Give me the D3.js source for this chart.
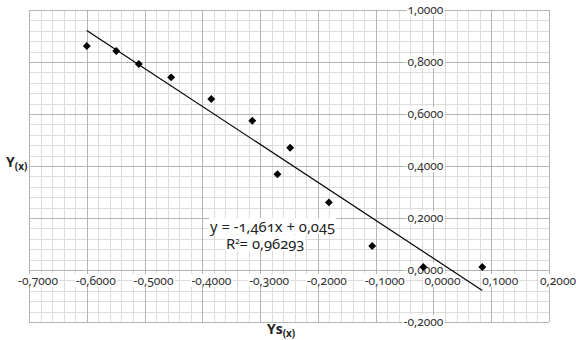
<!DOCTYPE html>
<html lang="en">
<head>
<meta charset="utf-8">
<title>Ys(x) vs Y(x) scatter</title>
<script src="https://d3js.org/d3.v7.min.js"></script>
<style>
  body { margin: 0; background: #fff; }
  .tick-label { font-family: "Noto Sans", sans-serif; font-size: 12px; fill: #333;
                font-variant-numeric: oldstyle-nums; }
  .eq { font-family: "Noto Sans", sans-serif; font-size: 14.8px; fill: #222;
        font-variant-numeric: oldstyle-nums; }
  .axis-title { font-family: "Open Sans", "Noto Sans", sans-serif; font-size: 14px; font-weight: bold; fill: #222; }
</style>
</head>
<body>
<script>
// data
var xs = [-0.600, -0.549, -0.510, -0.454, -0.3845, -0.3135, -0.248, -0.270, -0.181, -0.106, -0.0175, 0.0846];
var ys = [0.8615, 0.842, 0.792, 0.741, 0.658, 0.574, 0.470, 0.368, 0.260, 0.0923, 0.0115, 0.0115];
var xTicks = [-0.7, -0.6, -0.5, -0.4, -0.3, -0.2, -0.1, 0.0, 0.1, 0.2];
var yTicks = [-0.2, 0.0, 0.2, 0.4, 0.6, 0.8, 1.0];
var slope = -1.461, intercept = 0.045;
var eqText = "y = -1,461x + 0,045";

var width = 576, height = 340;
var margin = {top: 10, right: 27, bottom: 18, left: 29};

var x = d3.scaleLinear().domain([-0.7, 0.2]).range([margin.left, width - margin.right]);
var y = d3.scaleLinear().domain([-0.2, 1.0]).range([height - margin.bottom, margin.top]);

var svg = d3.select("body").append("svg")
    .attr("width", width)
    .attr("height", height);

// minor grid
var xMinor = d3.range(-0.7, 0.2001, 0.02);
var yMinor = d3.range(-0.2, 1.0001, 0.04);
svg.append("g").selectAll("line").data(xMinor).enter().append("line")
    .attr("x1", d => Math.round(x(d)) + 0.5).attr("x2", d => Math.round(x(d)) + 0.5)
    .attr("y1", y(1.0)).attr("y2", y(-0.2))
    .attr("stroke", "#dcdcdc").attr("stroke-width", 1);
svg.append("g").selectAll("line").data(yMinor).enter().append("line")
    .attr("y1", d => Math.round(y(d)) + 0.5).attr("y2", d => Math.round(y(d)) + 0.5)
    .attr("x1", x(-0.7)).attr("x2", x(0.2))
    .attr("stroke", "#dcdcdc").attr("stroke-width", 1);

// major grid
svg.append("g").selectAll("line").data(xTicks).enter().append("line")
    .attr("x1", d => Math.round(x(d)) + 0.5).attr("x2", d => Math.round(x(d)) + 0.5)
    .attr("y1", y(1.0)).attr("y2", y(-0.2))
    .attr("stroke", "#b4b4b4").attr("stroke-width", 1);
svg.append("g").selectAll("line").data(yTicks).enter().append("line")
    .attr("y1", d => Math.round(y(d)) + 0.5).attr("y2", d => Math.round(y(d)) + 0.5)
    .attr("x1", x(-0.7)).attr("x2", x(0.2))
    .attr("stroke", "#b4b4b4").attr("stroke-width", 1);

function fmt(v) {
  return d3.format(".4f")(v).replace("−", "-").replace(".", ",");
}

// white box behind a text
function boxBehind(g, t) {
  var b = t.node().getBBox();
  g.insert("rect", function() { return t.node(); })
      .attr("x", b.x - 1).attr("y", b.y + 2)
      .attr("width", b.width + 2).attr("height", b.height - 4)
      .attr("fill", "#fff");
}

function boxedText(g, tx, ty, txt, cls, anchor) {
  var t = g.append("text").attr("class", cls)
      .attr("x", tx).attr("y", ty)
      .attr("text-anchor", anchor)
      .text(txt);
  boxBehind(g, t);
  return t;
}

var lab = svg.append("g");
yTicks.forEach(function(v) {
  boxedText(lab, x(0) + 10, y(v) + 4, fmt(v), "tick-label", "end");
});
xTicks.forEach(function(v) {
  boxedText(lab, x(v) + 9, y(0) + 15, fmt(v), "tick-label", "middle");
});

// trendline over data extent
var xe = d3.extent(xs);
svg.append("line")
    .attr("x1", x(xe[0])).attr("y1", y(slope * xe[0] + intercept))
    .attr("x2", x(xe[1])).attr("y2", y(slope * xe[1] + intercept))
    .attr("stroke", "#000").attr("stroke-width", 1.2);

// points
svg.append("g").selectAll("path").data(xs).enter().append("path")
    .attr("transform", (d, i) => "translate(" + x(d) + "," + y(ys[i]) + ")")
    .attr("d", d3.symbol().type(d3.symbolDiamond2).size(40))
    .attr("fill", "#000");

// equation
var eg = svg.append("g");
boxedText(eg, 210, 232, eqText, "eq", "start");
var r2 = eg.append("text").attr("class", "eq").attr("x", 226).attr("y", 249);
r2.append("tspan").text("R");
r2.append("tspan").attr("dy", -5).style("font-size", "8px").text("2");
r2.append("tspan").attr("dy", 5).text("= 0,96293");
boxBehind(eg, r2);

// axis titles
var yt = svg.append("text").attr("class", "axis-title").attr("x", 6).attr("y", 167);
yt.append("tspan").text("Y");
yt.append("tspan").attr("dy", 3).style("font-size", "10px").text("(x)");

var xt = svg.append("text").attr("class", "axis-title").attr("x", 267).attr("y", 334);
xt.append("tspan").text("Ys");
xt.append("tspan").attr("dy", 3).style("font-size", "10px").text("(x)");
</script>
</body>
</html>
